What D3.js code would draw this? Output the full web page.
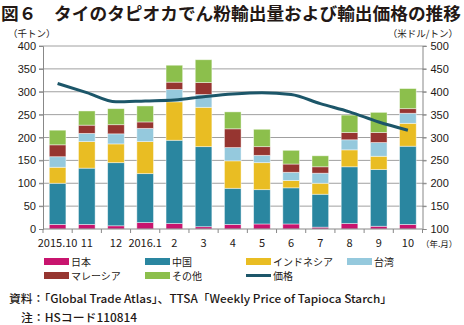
<!DOCTYPE html>
<html>
<head>
<meta charset="utf-8">
<script src="https://cdn.jsdelivr.net/npm/d3@7"></script>
<style>
  body { margin: 0; background: #fff; }
  svg { display: block; font-family: "Noto Sans CJK JP", "Noto Sans", sans-serif; }
</style>
</head>
<body>
<svg id="chart" width="464" height="325"></svg>
<script>
// data
var months = ["2015.10", "11", "12", "2016.1", "2", "3", "4", "5", "6", "7", "8", "9", "10"]
var japan = [10, 10, 7, 14, 12, 5, 10, 11, 11, 4, 12, 6, 10]
var china = [90, 123, 138, 107, 182, 175, 79, 75, 79, 72, 124, 124, 171]
var indonesia = [35, 58, 41, 70, 84, 86, 60, 59, 16, 24, 37, 29, 50]
var taiwan = [23, 18, 22, 29, 27, 28, 29, 16, 18, 22, 22, 30, 22]
var malaysia = [26, 18, 20, 14, 16, 26, 41, 19, 18, 14, 16, 22, 10]
var other = [32, 31, 35, 35, 37, 50, 37, 38, 30, 24, 38, 44, 44]
var price = [418, 398, 378, 380, 382, 389, 395, 398, 394, 374, 356, 334, 316]
var leftTicks = [0, 50, 100, 150, 200, 250, 300, 350, 400]
var rightTicks = [100, 150, 200, 250, 300, 350, 400, 450, 500]

var seriesNames = ["日本", "中国", "インドネシア", "台湾", "マレーシア", "その他"]
var seriesData = [japan, china, indonesia, taiwan, malaysia, other]
var colors = ["#c8146e", "#2a86a0", "#e9bd23", "#95c9dd", "#963530", "#8cbf4c"]
var lineColor = "#1c5669"

var svg = d3.select("#chart")
var plotL = 43, plotR = 422.5, plotT = 46, plotB = 229

var x = d3.scaleBand().domain(months).range([plotL, plotR]).paddingInner(0.43).paddingOuter(0.215)
var band = d3.scaleBand().domain(months).range([plotL, plotR])
var y = d3.scaleLinear().domain([0, 400]).range([plotB, plotT])
var y2 = d3.scaleLinear().domain([100, 500]).range([plotB, plotT])

// title
svg.append("text").attr("x", 1).attr("y", 20)
  .attr("font-size", 17.5).attr("font-weight", "bold").attr("fill", "#231815")
  .attr("textLength", 460).attr("lengthAdjust", "spacingAndGlyphs")
  .text("図６　タイのタピオカでん粉輸出量および輸出価格の推移")

svg.append("text").attr("x", 8).attr("y", 37).attr("font-size", 9.5).attr("fill", "#231815").text("（千トン）")
svg.append("text").attr("x", 458).attr("y", 37).attr("font-size", 9.5).attr("text-anchor", "end").attr("fill", "#231815").text("（米ドル/トン）")

// grid
svg.append("g").selectAll("line").data(leftTicks.slice(1)).join("line")
  .attr("x1", plotL - 4).attr("x2", plotR + 4)
  .attr("y1", d => y(d)).attr("y2", d => y(d))
  .attr("stroke", "#a0a0a0").attr("stroke-width", 1)

// left axis
var ax = svg.append("g").attr("transform", "translate(" + plotL + ",0)")
  .call(d3.axisLeft(y).tickValues(leftTicks).tickSize(4).tickPadding(3))
ax.select(".domain").attr("stroke", "#888")
ax.selectAll(".tick line").attr("stroke", "#888")
ax.selectAll("text").attr("font-size", 11).attr("fill", "#231815")

var ax2 = svg.append("g").attr("transform", "translate(" + plotR + ",0)")
  .call(d3.axisRight(y2).tickValues(rightTicks).tickSize(4).tickPadding(4))
ax2.select(".domain").attr("stroke", "#888")
ax2.selectAll(".tick line").attr("stroke", "#888")
ax2.selectAll("text").attr("font-size", 11).attr("fill", "#231815")

// stacked bars
var rows = months.map(function(m, i) {
  var r = {month: m}
  seriesNames.forEach(function(s, j) { r[s] = seriesData[j][i] })
  return r
})
var stack = d3.stack().keys(seriesNames)(rows)

svg.append("g").selectAll("g").data(stack).join("g")
  .attr("fill", (d, i) => colors[i])
  .selectAll("rect").data(d => d).join("rect")
  .attr("x", d => x(d.data.month))
  .attr("width", x.bandwidth())
  .attr("y", d => y(d[1]))
  .attr("height", d => y(d[0]) - y(d[1]))
  .attr("stroke", "#ffffff").attr("stroke-opacity", 0.55).attr("stroke-width", 0.8)

// x axis
var xa = svg.append("g").attr("transform", "translate(0," + plotB + ")")
xa.append("line").attr("x1", plotL).attr("x2", plotR).attr("stroke", "#888")
xa.selectAll("line.t").data(d3.range(months.length + 1)).join("line").attr("class", "t")
  .attr("x1", d => plotL + d * band.step()).attr("x2", d => plotL + d * band.step())
  .attr("y1", 0).attr("y2", 4).attr("stroke", "#888")
xa.selectAll("text").data(months).join("text")
  .attr("x", d => band(d) + band.bandwidth() / 2).attr("y", 18)
  .attr("text-anchor", "middle").attr("font-size", 11).attr("fill", "#231815")
  .text(d => d)
svg.append("text").attr("x", 421).attr("y", 247).attr("font-size", 8.5).attr("fill", "#231815").text("（年.月）")

// price line
var line = d3.line()
  .x((d, i) => band(months[i]) + band.bandwidth() / 2)
  .y(d => y2(d))
  .curve(d3.curveMonotoneX)
svg.append("path").datum(price).attr("d", line)
  .attr("fill", "none").attr("stroke", lineColor).attr("stroke-width", 3)

// legend
var legendPos = [[44, 258], [145, 258], [246, 258], [347, 258], [44, 272], [145, 272]]
var lg = svg.append("g")
seriesNames.forEach(function(s, i) {
  lg.append("rect").attr("x", legendPos[i][0]).attr("y", legendPos[i][1])
    .attr("width", 25).attr("height", 7).attr("fill", colors[i])
  lg.append("text").attr("x", legendPos[i][0] + 27).attr("y", legendPos[i][1] + 7.5)
    .attr("font-size", 10).attr("fill", "#231815").text(s)
})
lg.append("line").attr("x1", 246).attr("x2", 271).attr("y1", 275.5).attr("y2", 275.5)
  .attr("stroke", lineColor).attr("stroke-width", 3)
lg.append("text").attr("x", 273).attr("y", 279.5).attr("font-size", 10).attr("fill", "#231815").text("価格")

// source
svg.append("text").attr("x", 9).attr("y", 303).attr("font-size", 11).attr("font-weight", 500).attr("fill", "#231815")
  .attr("textLength", 383).attr("lengthAdjust", "spacingAndGlyphs")
  .text("資料：「Global Trade Atlas」、TTSA「Weekly Price of Tapioca Starch」")
svg.append("text").attr("x", 21).attr("y", 322).attr("font-size", 11).attr("font-weight", 500).attr("fill", "#231815")
  .attr("textLength", 116).attr("lengthAdjust", "spacingAndGlyphs")
  .text("注：HSコード110814")
</script>
</body>
</html>
